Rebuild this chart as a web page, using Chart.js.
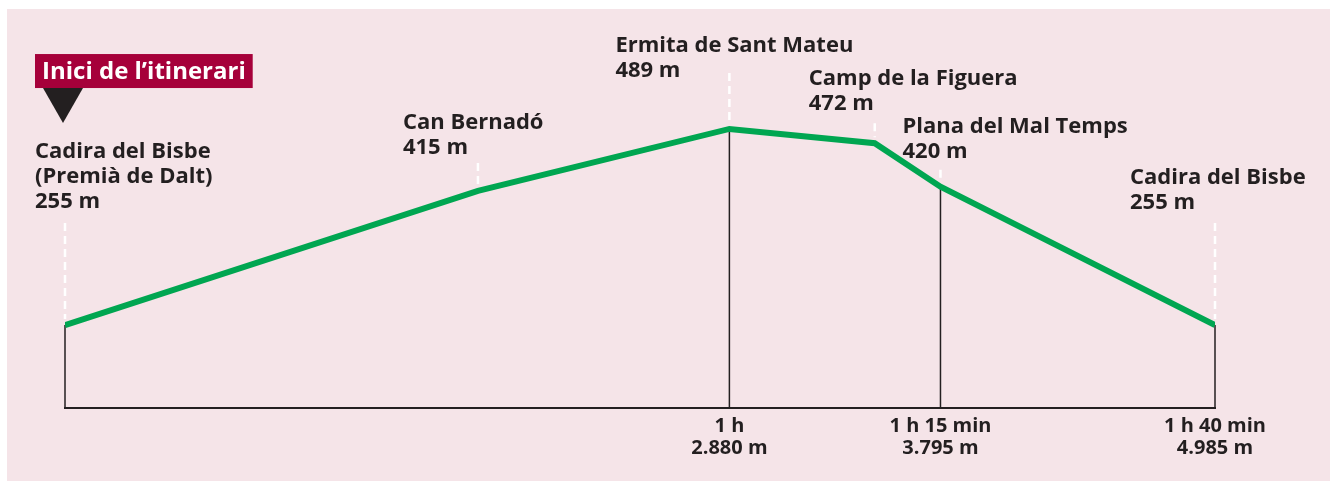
<!DOCTYPE html>
<html>
<head>
<meta charset="utf-8">
<title>Perfil de l'itinerari</title>
<script src="https://cdn.jsdelivr.net/npm/chart.js@4.4.0/dist/chart.umd.min.js"></script>
<style>
  html, body { margin: 0; padding: 0; background: #fff; }
  #wrap { position: relative; width: 1330px; height: 481px; }
  #panel { position: absolute; left: 7px; top: 9px; right: 0; bottom: 0; background: #f5e4e8; }
  #profileChart { position: absolute; left: 0; top: 0; }
</style>
</head>
<body>
<div id="wrap">
  <div id="panel"></div>
  <canvas id="profileChart" width="1330" height="481"></canvas>
</div>
<script>
// route points
const placeNames = [
  ['Cadira del Bisbe', '(Premià de Dalt)'],
  ['Can Bernadó'],
  ['Ermita de Sant Mateu'],
  ['Camp de la Figuera'],
  ['Plana del Mal Temps'],
  ['Cadira del Bisbe']
];
const distances = [0, 1790, 2880, 3510, 3795, 4985];   // m from start
const elevations = [255, 415, 489, 472, 420, 255];     // m

// bottom axis
const tickDistances = [2880, 3795, 4985];
const tickTimes = ['1 h', '1 h 15 min', '1 h 40 min'];
const tickDistLabels = ['2.880 m', '3.795 m', '4.985 m'];

const startText = 'Inici de l’itinerari';

// where each place label sits relative to its point (px), and gap under text for the dashes
const labelOffsets = [
  { dx: -30, dy: -167, gap: 15 },
  { dx: -75, dy: -62, gap: 9 },
  { dx: -114, dy: -77, gap: -4 },
  { dx: -66, dy: -58, gap: 13 },
  { dx: -38, dy: -54, gap: 12 },
  { dx: -85, dy: -141, gap: 14 }
];

const FAMILY = '"Open Sans", "Liberation Sans", sans-serif';
const INK = '#231f20';
const LINE_H = 25;

const profileMarks = {
  id: 'profileMarks',
  beforeDatasetsDraw(chart) {
    const c = chart.ctx;
    const meta = chart.getDatasetMeta(0);
    const base = chart.chartArea.bottom;
    c.save();
    meta.data.forEach((pt, i) => {
      // black drop line to the base for start and timed points
      if (distances[i] === 0 || tickDistances.includes(distances[i])) {
        c.strokeStyle = INK;
        c.lineWidth = 1.5;
        c.setLineDash([]);
        c.beginPath();
        c.moveTo(pt.x, pt.y);
        c.lineTo(pt.x, base);
        c.stroke();
      }
      // white dashes up to the label
      const o = labelOffsets[i];
      const lastBase = pt.y + o.dy + placeNames[i].length * LINE_H;
      c.strokeStyle = '#ffffff';
      c.lineWidth = 2.5;
      c.setLineDash([8, 5]);
      c.beginPath();
      c.moveTo(pt.x, lastBase + o.gap);
      c.lineTo(pt.x, pt.y - 6);
      c.stroke();
    });
    c.restore();
  },
  afterDatasetsDraw(chart) {
    const c = chart.ctx;
    const meta = chart.getDatasetMeta(0);
    c.save();
    c.fillStyle = INK;
    c.font = 'bold 22px ' + FAMILY;
    c.textBaseline = 'alphabetic';
    c.textAlign = 'left';
    meta.data.forEach((pt, i) => {
      const o = labelOffsets[i];
      const lines = placeNames[i].concat([elevations[i] + ' m']);
      lines.forEach((t, k) => c.fillText(t, pt.x + o.dx, pt.y + o.dy + k * LINE_H));
    });

    // start banner and marker
    const p0 = meta.data[0];
    const bx = p0.x + labelOffsets[0].dx;
    const by = p0.y + labelOffsets[0].dy - 104;
    c.font = 'bold 24px ' + FAMILY;
    const w = c.measureText(startText).width + 14;
    c.fillStyle = '#a6003a';
    c.fillRect(bx, by, w, 34);
    c.fillStyle = '#ffffff';
    c.fillText(startText, bx + 7, by + 25);
    c.fillStyle = INK;
    c.beginPath();
    c.moveTo(bx + 8, by + 34);
    c.lineTo(bx + 48, by + 34);
    c.lineTo(bx + 28, by + 69);
    c.closePath();
    c.fill();
    c.restore();
  }
};

new Chart(document.getElementById('profileChart').getContext('2d'), {
  type: 'line',
  data: {
    datasets: [{
      data: distances.map((d, i) => ({ x: d, y: elevations[i] })),
      borderColor: '#00a651',
      borderWidth: 6,
      borderJoinStyle: 'miter',
      borderCapStyle: 'butt',
      pointRadius: 0,
      tension: 0,
      fill: false
    }]
  },
  options: {
    responsive: false,
    animation: false,
    layout: { padding: { left: 65, right: 115, top: 20, bottom: 0 } },
    plugins: { legend: { display: false }, tooltip: { enabled: false } },
    scales: {
      x: {
        type: 'linear',
        min: 0,
        max: 4985,
        grid: { display: false, drawTicks: false },
        border: { display: true, color: INK, width: 2 },
        afterBuildTicks: s => { s.ticks = tickDistances.map(v => ({ value: v })); },
        afterFit: s => { s.height = 73; },
        ticks: {
          autoSkip: false,
          maxRotation: 0,
          padding: 7,
          color: INK,
          font: { family: FAMILY, size: 20, weight: 'bold', lineHeight: 1.1 },
          callback: (v, idx) => [tickTimes[idx], tickDistLabels[idx]]
        }
      },
      y: { display: false, min: 156, max: 619 }
    }
  },
  plugins: [profileMarks]
});
</script>
</body>
</html>
